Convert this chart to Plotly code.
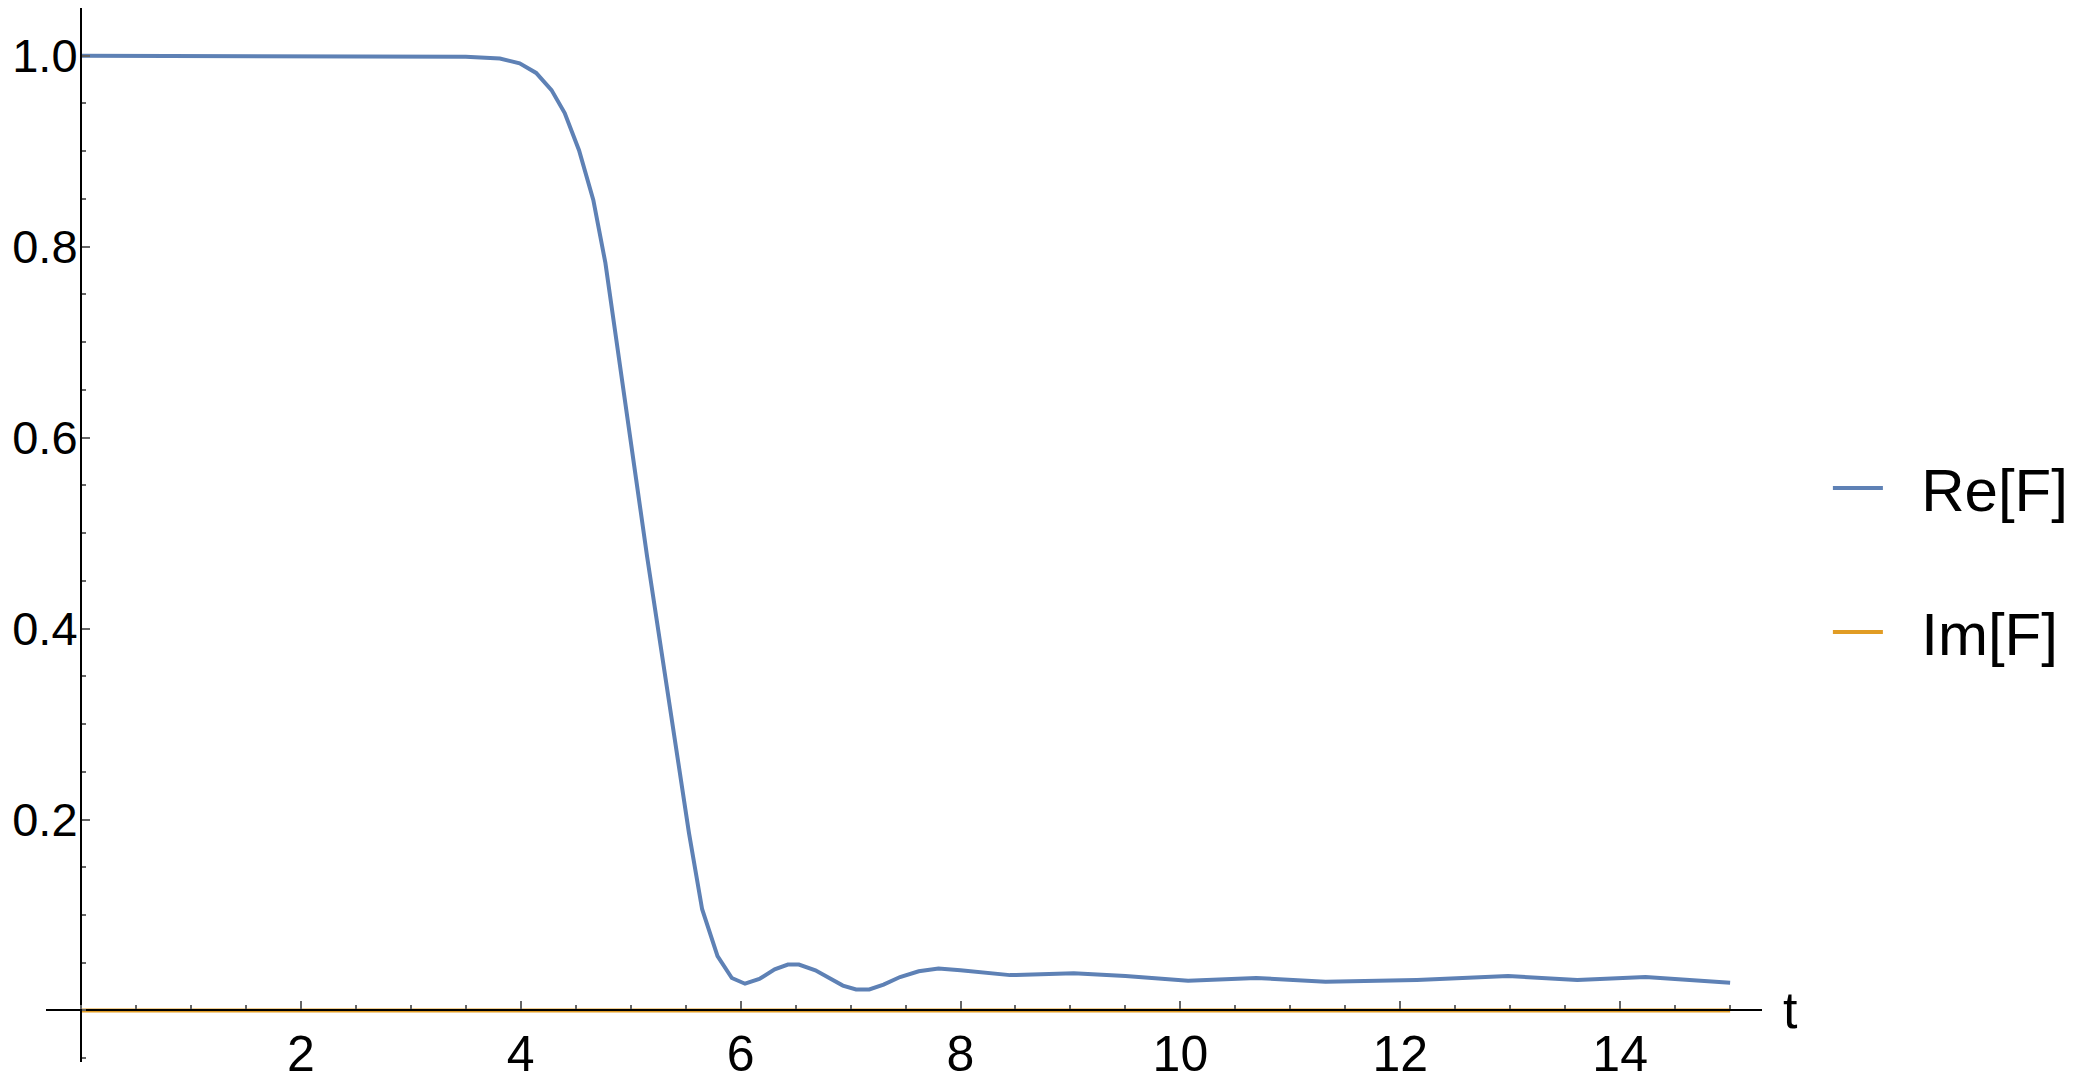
import plotly.graph_objects as go

# Re[F]
t_re = [0.0, 1.0, 2.0, 3.0, 3.3, 3.5, 3.81, 3.99, 4.14, 4.28, 4.40, 4.53, 4.66, 4.77,
        4.87, 4.96, 5.05, 5.15, 5.28, 5.40, 5.53, 5.65, 5.79, 5.92, 6.04, 6.17,
        6.31, 6.43, 6.53, 6.68, 6.81, 6.93, 7.05, 7.17, 7.30, 7.45, 7.62, 7.80,
        8.0, 8.45, 9.03, 9.5, 10.07, 10.69, 11.32, 12.15, 12.98, 13.61, 14.23, 15.0]
re_vals = [1.0, 1.0, 1.0, 1.0, 1.0, 0.999, 0.997, 0.992, 0.982, 0.964, 0.940, 0.901,
           0.849, 0.783, 0.702, 0.626, 0.556, 0.475, 0.377, 0.280, 0.186, 0.106,
           0.057, 0.034, 0.028, 0.033, 0.043, 0.048, 0.048, 0.042, 0.034, 0.026,
           0.022, 0.022, 0.027, 0.035, 0.041, 0.044, 0.042, 0.037, 0.039, 0.036,
           0.031, 0.034, 0.030, 0.032, 0.036, 0.032, 0.035, 0.029]

# Im[F] is identically zero
t_im = [0.0, 15.0]
im_vals = [0.0, 0.0]

x_ticks = [2, 4, 6, 8, 10, 12, 14]
y_ticks = [0.2, 0.4, 0.6, 0.8, 1.0]
y_labels = ["0.2", "0.4", "0.6", "0.8", "1.0"]

BLUE = "#5E81B5"
ORANGE = "#E19C24"
FONT = "Liberation Sans, Arial, sans-serif"
NBSP = "\u00a0"

x_range = [-0.318, 15.29]
y_range = [-0.054, 1.050]

fig = go.Figure()
fig.add_trace(go.Scatter(x=t_re, y=re_vals, mode="lines", name=NBSP * 2 + "Re[F]",
                         legendgroup="re", line=dict(color=BLUE, width=4)))
fig.add_trace(go.Scatter(x=t_im, y=im_vals, mode="lines", name=NBSP * 2 + "Im[F]",
                         legendgroup="im", line=dict(color=ORANGE, width=4)))

# axes cross at the origin, like Mathematica
x_pos = (0 - y_range[0]) / (y_range[1] - y_range[0])
y_pos = (0 - x_range[0]) / (x_range[1] - x_range[0])

tick_style = dict(ticks="inside", ticklen=8, tickwidth=2, tickcolor="#666666",
                  showgrid=False, zeroline=False, showline=True, automargin=False,
                  linecolor="black", linewidth=2)

fig.update_xaxes(range=x_range, tickvals=x_ticks, anchor="free", position=x_pos,
                 tickfont=dict(family=FONT, size=50, color="black"),
                 minor=dict(dtick=0.5, tick0=0, ticks="inside", ticklen=4,
                            tickwidth=2, tickcolor="#666666"),
                 **tick_style)
fig.update_yaxes(range=y_range, tickvals=y_ticks, ticktext=y_labels,
                 anchor="free", position=y_pos, ticklabelstandoff=-7,
                 tickfont=dict(family=FONT, size=47, color="black"),
                 minor=dict(dtick=0.05, tick0=0, ticks="inside", ticklen=4,
                            tickwidth=2, tickcolor="#666666"),
                 **tick_style)

fig.add_annotation(text="t", xref="paper", yref="y", x=1.011, y=0,
                   xanchor="left", yanchor="middle", showarrow=False,
                   font=dict(family=FONT, size=52, color="black"))

# page body adds an 8px offset, so the figure is 8px smaller than the window
fig.update_layout(
    width=2073, height=1075,
    margin=dict(l=38, r=319, t=0, b=21),
    plot_bgcolor="white", paper_bgcolor="white",
    showlegend=True,
    legend=dict(x=1.0384, y=0.5877, xanchor="left", yanchor="top",
                font=dict(family=FONT, size=60, color="black"),
                itemwidth=50, tracegroupgap=63, traceorder="grouped",
                bgcolor="rgba(0,0,0,0)"),
)

fig.write_html("out.html")
